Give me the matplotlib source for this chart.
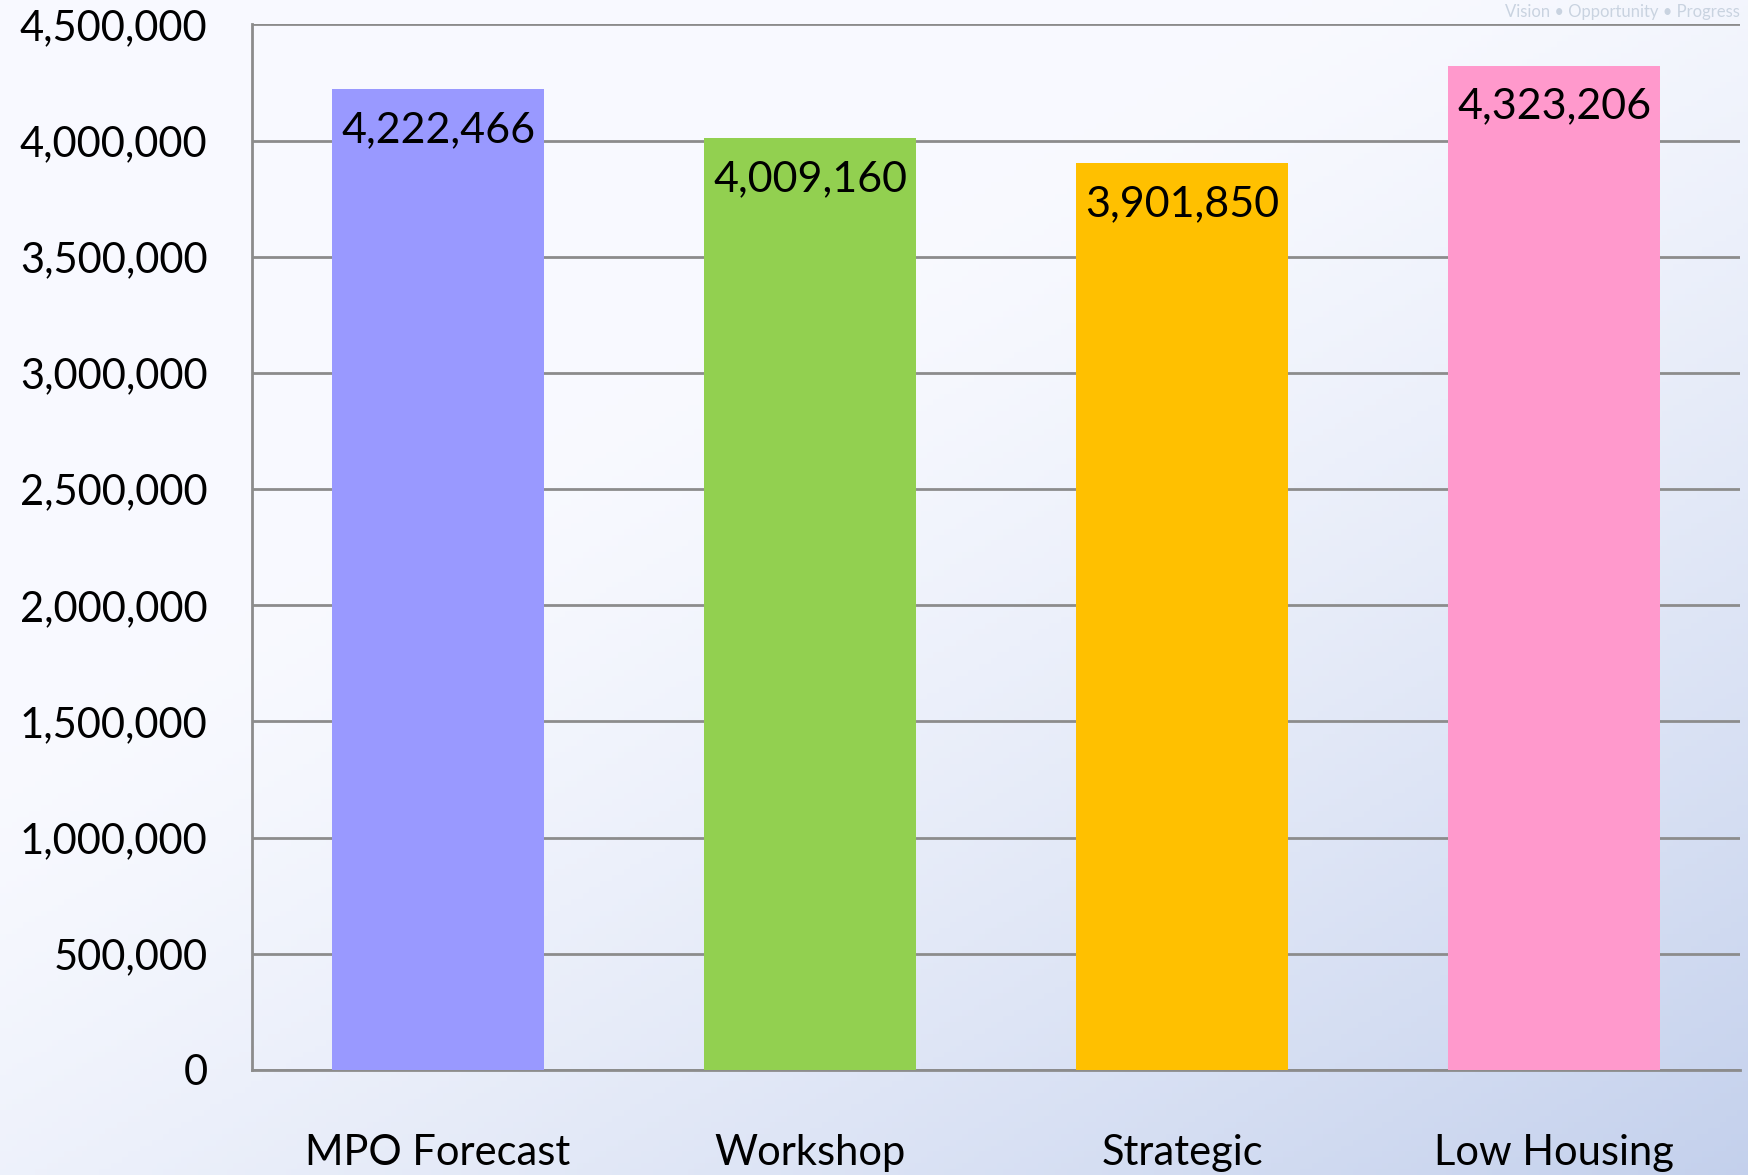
import numpy as np
import matplotlib
matplotlib.use('Agg')
import matplotlib.pyplot as plt
from matplotlib.ticker import FuncFormatter

categories = ['MPO Forecast', 'Workshop', 'Strategic', 'Low Housing']
values = [4222466, 4009160, 3901850, 4323206]
colors = ['#9999ff', '#92d050', '#ffc000', '#ff99cc']
yticks = [0, 500000, 1000000, 1500000, 2000000, 2500000, 3000000, 3500000, 4000000, 4500000]

plt.rcParams['font.family'] = ['Lato', 'DejaVu Sans']

fig = plt.figure(figsize=(17.49, 11.75), dpi=100)

# slide background: pale gradient from white to light blue
bg = fig.add_axes([0, 0, 1, 1], zorder=-10)
gx, gy = np.meshgrid(np.linspace(0, 1, 300), np.linspace(0, 1, 200))
t = np.clip(0.6 * gx + 0.7 * gy - 0.45, 0, 1) ** 1.3
c0 = np.array([0.975, 0.98, 1.0])
c1 = np.array([0.72, 0.78, 0.91])
img = c0 + (c1 - c0) * t[..., None]
bg.imshow(img, extent=[0, 1, 0, 1], origin='upper', aspect='auto')
bg.set_xlim(0, 1)
bg.set_ylim(0, 1)
bg.axis('off')
fig.text(0.995, 0.997, 'Vision • Opportunity • Progress', fontsize=12, color='#c9d3e0', va='top', ha='right')

ax = fig.add_axes([0.1441, 0.0894, 0.8508, 0.8898])
ax.set_facecolor('none')
x = np.arange(len(categories))
bars = ax.bar(x, values, width=0.57, color=colors, zorder=3)
for b, v in zip(bars, values):
    ax.text(b.get_x() + b.get_width() / 2, v - 95000, f'{v:,}', ha='center', va='top', fontsize=31, color='black', zorder=4)

ax.set_ylim(0, 4500000)
ax.set_xlim(-0.5, len(categories) - 0.5)
ax.set_yticks(yticks)
ax.yaxis.set_major_formatter(FuncFormatter(lambda v, p: f'{int(v):,}'))
ax.set_xticks(x)
ax.set_xticklabels(categories)
ax.tick_params(axis='y', length=0, pad=32, labelsize=30)
ax.tick_params(axis='x', length=0, pad=46, labelsize=30)
ax.grid(axis='y', color='#8c8c8c', linewidth=2, zorder=1)
for s in ['top', 'right']:
    ax.spines[s].set_visible(False)
ax.spines['left'].set_color('#8c8c8c')
ax.spines['left'].set_linewidth(2)
ax.spines['bottom'].set_color('#8c8c8c')
ax.spines['bottom'].set_linewidth(2)

fig.savefig('out.png', dpi=100)
